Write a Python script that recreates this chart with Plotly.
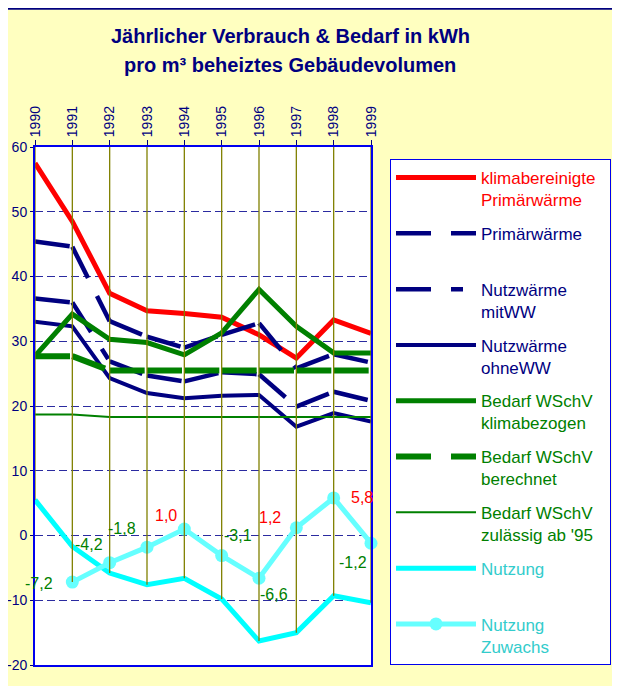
import plotly.graph_objects as go

# ---------------- data ----------------
years = [1990, 1991, 1992, 1993, 1994, 1995, 1996, 1997, 1998, 1999]
year_labels = [str(y) for y in years]

klima_primaer = [57.5, 48.5, 37.4, 34.7, 34.3, 33.7, 31.0, 27.4, 33.3, 31.2]
primaer = [45.4, 44.6, 33.1, 30.7, 29.0, 31.0, 32.8, 25.8, 28.0, 26.7]
nutz_mit_ww = [36.6, 36.0, 26.9, 24.7, 23.8, 25.2, 24.9, 19.9, 22.2, 20.8]
nutz_ohne_ww = [33.0, 32.3, 24.3, 22.0, 21.2, 21.6, 21.7, 16.8, 18.9, 17.6]
bedarf_klima = [27.7, 34.2, 30.3, 29.8, 27.9, 31.3, 38.0, 32.3, 28.2, 28.2]
bedarf_berechnet = [27.7, 27.7, 25.5, 25.5, 25.5, 25.5, 25.5, 25.5, 25.5, 25.5]
bedarf_zulaessig = [18.7, 18.7, 18.3, 18.3, 18.3, 18.3, 18.3, 18.3, 18.4, 18.3]
nutzung = [5.5, -1.7, -5.8, -7.6, -6.6, -9.8, -16.3, -15.0, -9.3, -10.4]
nutzung_zuwachs = [None, -7.2, -4.2, -1.8, 1.0, -3.1, -6.6, 1.2, 5.8, -1.2]

y_ticks = [60, 50, 40, 30, 20, 10, 0, -10, -20]

# ---------------- styling / layout constants ----------------
W, H = 620, 686
OFF = 8                      # page body margin of the browser
# plot area in page pixels (as seen in the picture)
P_LEFT, P_RIGHT, P_TOP, P_BOTTOM = 35, 371, 147, 665
ML = P_LEFT - OFF
MT = P_TOP - OFF
MR = W - ML - (P_RIGHT - P_LEFT)
MB = H - MT - (P_BOTTOM - P_TOP)
Y_MIN, Y_MAX = -20, 60
BG = "#FFFFC0"
NAVY = "#000080"
RED = "#FF0000"
GREEN = "#008000"
CYAN = "#00FFFF"
LCYAN = "#66FFFF"
TURQ = "#33CCCC"
OLIVE = "#808000"
FRAME = "#0000EE"
FONT = "Arial, Liberation Sans, sans-serif"

# label offsets (pixels) for the Zuwachs data labels
label_dx = [0, -33, -21, -25, -18, 16, 15, -26, 28, -18]
label_dy = [0, -1, 18, 19, 14, 20, -16, 10, 0, -19]


def px_x(px):
    return (px - P_LEFT) / (P_RIGHT - P_LEFT)


def px_y(py):
    return (P_BOTTOM - py) / (P_BOTTOM - P_TOP)


def fmt(v):
    return f"{v:.1f}".replace(".", ",")


def legend_name(text, color):
    lines = text.split("\n")
    if len(lines) == 1:
        lines.append("\u00a0")
    return "<br>".join(f"<span style='color:{color}'>{ln}</span>" for ln in lines)


fig = go.Figure()


def add_solid(name, vals, color, width, group, text_color=None, markers=False):
    xs = [x for x, v in zip(years, vals) if v is not None]
    ys = [v for v in vals if v is not None]
    fig.add_trace(go.Scatter(
        x=xs, y=ys, mode="lines+markers" if markers else "lines",
        name=legend_name(name, text_color or color),
        legendgroup=group,
        line=dict(color=color, width=width),
        marker=dict(size=13, color=color) if markers else None,
        cliponaxis=False,
    ))


def add_dashed(name, vals, color, width, dash, group, text_color=None):
    # Excel restarts the dash pattern on every segment
    for i in range(len(years) - 1):
        fig.add_trace(go.Scatter(
            x=years[i:i + 2], y=vals[i:i + 2], mode="lines",
            name=legend_name(name, text_color or color),
            legendgroup=group, showlegend=(i == 0),
            line=dict(color=color, width=width, dash=dash),
        ))


add_solid("klimabereinigte\u00a0\u00a0\nPrimärwärme", klima_primaer, RED, 5, "g1")
add_dashed("Primärwärme", primaer, NAVY, 4.5, "35px,20px", "g2")
add_dashed("Nutzwärme\nmitWW", nutz_mit_ww, NAVY, 4.5, "35px,20px,12px,20px", "g3")
add_solid("Nutzwärme\nohneWW", nutz_ohne_ww, NAVY, 4, "g4")
add_solid("Bedarf WSchV\nklimabezogen", bedarf_klima, GREEN, 5, "g5")
add_dashed("Bedarf WSchV\nberechnet", bedarf_berechnet, GREEN, 6, "35px,20px", "g6")
add_solid("Bedarf WSchV\nzulässig ab '95", bedarf_zulaessig, GREEN, 2, "g7")
add_solid("Nutzung", nutzung, CYAN, 5, "g8", text_color=TURQ)
add_solid("Nutzung\nZuwachs", nutzung_zuwachs, LCYAN, 5, "g9", text_color=TURQ, markers=True)

# drop lines: from the lowest value of each year up to the category axis (top)
all_series = [klima_primaer, primaer, nutz_mit_ww, nutz_ohne_ww, bedarf_klima,
              bedarf_berechnet, bedarf_zulaessig, nutzung, nutzung_zuwachs]
drop_x, drop_y = [], []
for i, yr in enumerate(years):
    lo = min(s[i] for s in all_series if s[i] is not None)
    drop_x += [yr, yr, None]
    drop_y += [lo, Y_MAX, None]
fig.add_trace(go.Scatter(x=drop_x, y=drop_y, mode="lines", showlegend=False,
                         line=dict(color=OLIVE, width=1.3), hoverinfo="skip"))

# data labels for Nutzung Zuwachs
annotations = []
for i, (yr, v) in enumerate(zip(years, nutzung_zuwachs)):
    if v is None:
        continue
    annotations.append(dict(
        x=yr, y=v, xref="x", yref="y", text=fmt(v), showarrow=False,
        xshift=label_dx[i], yshift=label_dy[i],
        font=dict(family=FONT, size=16, color=RED if v > 0 else GREEN),
    ))

# title (two lines)
for txt, py in [("Jährlicher Verbrauch & Bedarf in kWh", 36),
                ("pro m³ beheiztes Gebäudevolumen", 65)]:
    annotations.append(dict(
        x=px_x(290), y=px_y(py), xref="paper", yref="paper",
        text=f"<b>{txt}</b>", showarrow=False, xanchor="center", yanchor="middle",
        font=dict(family=FONT, size=20, color=NAVY),
    ))

# outer chart-area border (navy top/right)
shapes = [
    dict(type="rect", xref="paper", yref="paper", layer="above",
         x0=px_x(OFF - 2), x1=px_x(619), y0=px_y(OFF + 1.8), y1=px_y(OFF - 1),
         fillcolor=NAVY, line=dict(width=0)),
    dict(type="rect", xref="paper", yref="paper", layer="above",
         x0=px_x(617), x1=px_x(619.3), y0=px_y(OFF), y1=px_y(H + OFF + 2),
         fillcolor=NAVY, line=dict(width=0)),
    dict(type="rect", xref="paper", yref="paper", layer="above",
         x0=px_x(619.3), x1=px_x(W + OFF + 2), y0=px_y(OFF - 1), y1=px_y(H + OFF + 2),
         fillcolor="white", line=dict(width=0)),
]

fig.update_layout(
    width=W, height=H,
    margin=dict(l=ML, r=MR, t=MT, b=MB, autoexpand=False),
    paper_bgcolor=BG, plot_bgcolor="white",
    font=dict(family=FONT, color=NAVY, size=14),
    showlegend=True,
    legend=dict(
        x=px_x(390), y=px_y(159), xanchor="left", yanchor="top",
        bgcolor="white", bordercolor=FRAME, borderwidth=1,
        font=dict(family=FONT, size=17, color=NAVY),
        itemwidth=80, valign="top", tracegroupgap=8.6,
        traceorder="grouped", itemclick=False, itemdoubleclick=False,
    ),
    annotations=annotations,
    shapes=shapes,
)

fig.update_xaxes(
    range=[years[0], years[-1]], side="top",
    tickmode="array", tickvals=years, ticktext=year_labels, tickangle=-90,
    ticks="outside", ticklen=5, tickcolor=NAVY, tickwidth=1,
    tickfont=dict(family=FONT, size=14, color=NAVY),
    showgrid=False, zeroline=False,
    showline=True, linecolor=FRAME, linewidth=2, mirror=True,
    automargin=False, fixedrange=True,
)
fig.update_yaxes(
    range=[Y_MIN, Y_MAX], tickmode="array", tickvals=y_ticks,
    ticktext=[str(t) for t in y_ticks],
    ticks="outside", ticklen=3, tickcolor=NAVY, tickwidth=1,
    tickfont=dict(family=FONT, size=14, color=NAVY),
    showgrid=True, gridcolor="#2B2BA0", gridwidth=1, griddash="8px,4px",
    zeroline=False,
    showline=True, linecolor=FRAME, linewidth=2, mirror=True,
    automargin=False, fixedrange=True,
)

fig.write_html("out.html")
